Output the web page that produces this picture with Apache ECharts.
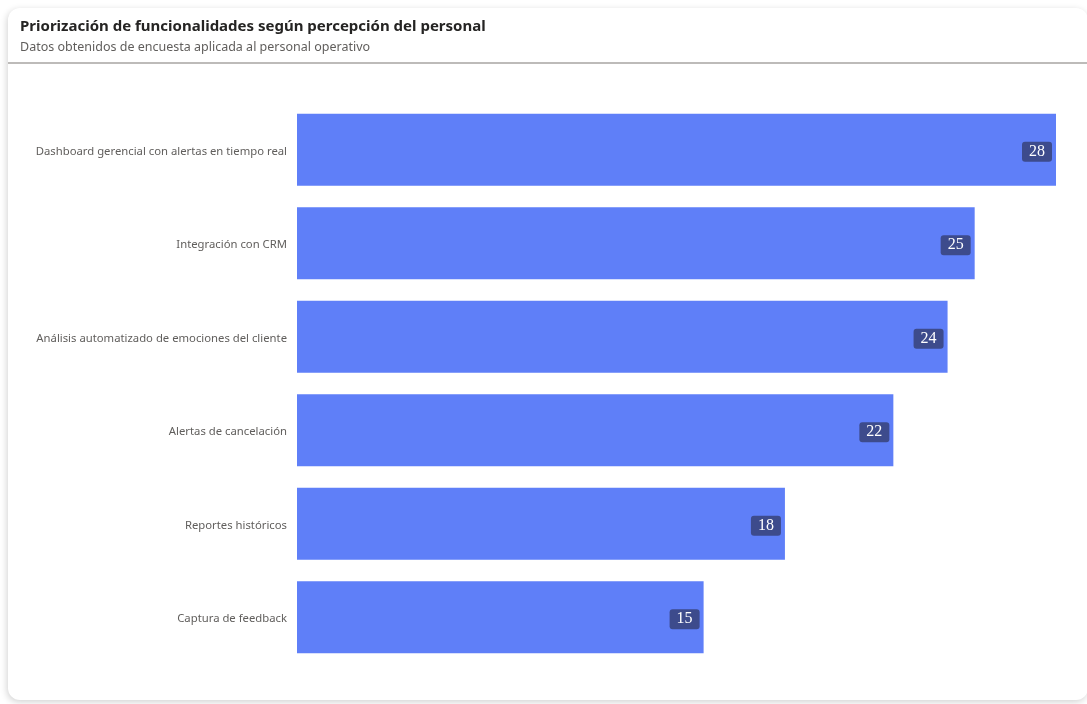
<!DOCTYPE html>
<html>
<head>
<meta charset="utf-8">
<style>
  html, body { margin: 0; padding: 0; background: #ffffff; width: 1087px; height: 704px; overflow: hidden; }
  #card {
    position: absolute; left: 8px; top: 8px; width: 1080px; height: 692px;
    background: #ffffff; border-radius: 12px;
    box-shadow: -1px 2px 7px rgba(0,0,0,0.18);
  }
  #chart { position: absolute; left: 0; top: 0; width: 1087px; height: 704px; }
</style>
<script src="https://cdn.jsdelivr.net/npm/echarts@6/dist/echarts.min.js"></script>
</head>
<body>
<div id="card"></div>
<div id="chart"></div>
<script>
// Funcionalidades priorizadas y número de votos del personal
const categories = [
  'Dashboard gerencial con alertas en tiempo real',
  'Integración con CRM',
  'Análisis automatizado de emociones del cliente',
  'Alertas de cancelación',
  'Reportes históricos',
  'Captura de feedback'
];
const votes = [28, 25, 24, 22, 18, 15];

const chart = echarts.init(document.getElementById('chart'), null, { renderer: 'canvas' });

chart.setOption({
  backgroundColor: 'transparent',
  animation: false,
  title: {
    text: 'Priorización de funcionalidades según percepción del personal',
    subtext: 'Datos obtenidos de encuesta aplicada al personal operativo',
    left: 20,
    top: 19,
    padding: 0,
    itemGap: 7,
    textStyle: { fontFamily: 'Noto Sans', fontSize: 15, fontWeight: 'bold', color: '#252423' },
    subtextStyle: { fontFamily: 'Noto Sans', fontSize: 12.5, color: '#605e5c' }
  },
  graphic: [{
    type: 'line',
    shape: { x1: 8, y1: 63, x2: 1087, y2: 63 },
    style: { stroke: '#bdbbb9', lineWidth: 2 }
  }],
  grid: { left: 297, right: 31, top: 103, bottom: 40, containLabel: false },
  xAxis: {
    type: 'value',
    min: 0,
    max: 28,
    show: false
  },
  yAxis: {
    type: 'category',
    data: categories,
    inverse: true,
    axisLine: { show: false },
    axisTick: { show: false },
    axisLabel: {
      margin: 10,
      formatter: function (v) { return '{c|' + v + '}'; },
      rich: {
        c: {
          fontFamily: 'Noto Sans',
          fontSize: 11.3,
          color: '#605e5c',
          padding: [4, 0, 0, 0]
        }
      }
    }
  },
  series: [{
    type: 'bar',
    data: votes,
    barCategoryGap: '23%',
    itemStyle: { color: '#5f7ff8' },
    label: {
      show: true,
      position: 'insideRight',
      distance: 4,
      offset: [0, 2],
      fontFamily: 'Liberation Serif',
      fontSize: 16,
      color: '#ffffff',
      backgroundColor: '#3d4b8c',
      borderRadius: 3,
      padding: [3, 7, 1, 7]
    }
  }]
});
</script>
</body>
</html>
